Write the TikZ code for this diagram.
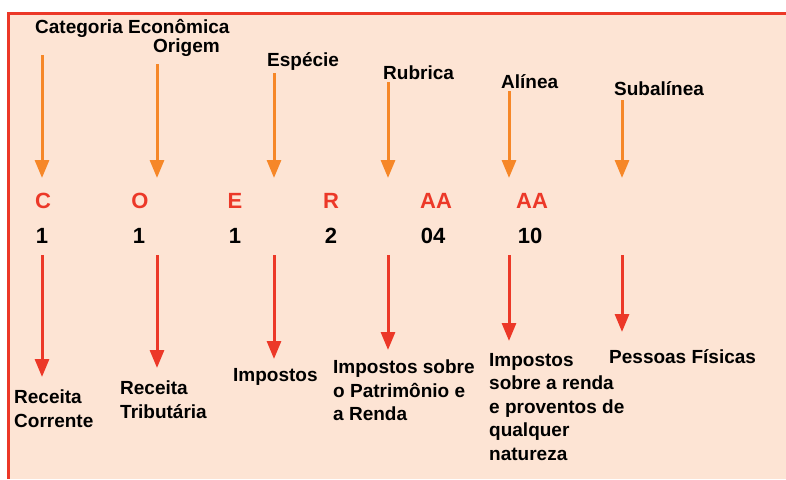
\documentclass[tikz,border=0pt]{standalone}
\usepackage{fontspec}
\setmainfont{Liberation Sans}
\usetikzlibrary{arrows.meta}
\definecolor{peach}{RGB}{253,228,212}
\definecolor{boxred}{RGB}{236,56,40}
\definecolor{arrorange}{RGB}{246,135,40}
\begin{document}
\begin{tikzpicture}[x=1pt,y=-1pt,
  lbl/.style={inner sep=0pt,font=\bfseries\fontsize{19}{23.5}\selectfont,text=black,align=left},
  code/.style={inner sep=0pt,anchor=base,font=\bfseries\fontsize{22}{26}\selectfont},
  uparr/.style={draw=arrorange,line width=3pt,-{Triangle[length=18pt,width=14pt]}},
  dnarr/.style={draw=boxred,line width=3pt,-{Triangle[length=18pt,width=14pt]}}]
\useasboundingbox (0,0) rectangle (786,479);
\fill[white] (0,0) rectangle (786,479);
\fill[peach] (7,12) rectangle (786,479);
\draw[boxred,line width=3pt] (8.5,479) -- (8.5,13.5) -- (786,13.5);
% top labels
\node[lbl,anchor=base west] (cat) at (35,33) {Categoria Econômica};
\node[lbl,anchor=base west] (ori) at (153,52) {Origem};
\node[lbl,anchor=base west] (esp) at (267,66) {Espécie};
\node[lbl,anchor=base west] (rub) at (383,79) {Rubrica};
\node[lbl,anchor=base west] (ali) at (501,88) {Alínea};
\node[lbl,anchor=base west] (sub) at (614,95) {Subalínea};
% codes
\node[code,text=boxred] (cC) at (43,208) {C};
\node[code,text=boxred] (cO) at (140,208) {O};
\node[code,text=boxred] (cE) at (235,208) {E};
\node[code,text=boxred] (cR) at (331,208) {R};
\node[code,text=boxred] (cA1) at (436,208) {AA};
\node[code,text=boxred] (cA2) at (532,208) {AA};
\node[code] (d1) at (42,243) {1};
\node[code] (d2) at (139,243) {1};
\node[code] (d3) at (235,243) {1};
\node[code] (d4) at (331,243) {2};
\node[code] (d5) at (433,243) {04};
\node[code] (d6) at (530,243) {10};
% coordinates of arrows
\foreach \i/\x/\s/\e in {1/42/55/178,2/157/64/178,3/274/73/178,4/388/82/178,5/509/91/178,6/622/100/178}{
  \coordinate (us\i) at (\x,\s);
  \coordinate (ue\i) at (\x,\e);
}
\foreach \i/\x/\e in {1/42/377,2/157/368,3/274/359,4/388/350,5/509/341,6/622/332}{
  \coordinate (ds\i) at (\x,255);
  \coordinate (de\i) at (\x,\e);
}
\foreach \i in {1,...,6}{
  \draw[uparr] (us\i) -- (ue\i);
  \draw[dnarr] (ds\i) -- (de\i);
}
% bottom labels
\node[lbl,anchor=north west] (b1) at (14,390) {Receita\\Corrente};
\node[lbl,anchor=north west] (b2) at (120,381) {Receita\\Tributária};
\node[lbl,anchor=north west] (b3) at (233,368) {Impostos};
\node[lbl,anchor=north west] (b4) at (333,360) {Impostos sobre\\o Patrimônio e\\a Renda};
\node[lbl,anchor=north west] (b5) at (489,353) {Impostos\\sobre a renda\\e proventos de\\qualquer\\natureza};
\node[lbl,anchor=base west] (b6) at (609,363) {Pessoas Físicas};
\end{tikzpicture}
\end{document}
